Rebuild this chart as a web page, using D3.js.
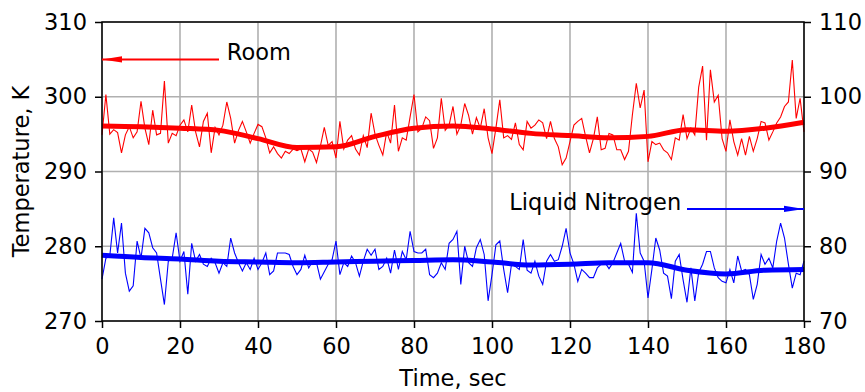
<!DOCTYPE html>
<html>
<head>
<meta charset="utf-8">
<script src="https://cdn.jsdelivr.net/npm/d3@7"></script>
<style>
  body { margin: 0; background: #fff; }
  svg { display: block; font-family: "DejaVu Sans", sans-serif; }
</style>
</head>
<body>
<svg id="chart" width="865" height="392"></svg>
<script>
// raw samples, one per second (0..180 s)
const roomTemp = [
  294.9, 300.3, 295.0, 295.6, 295.2, 292.5, 294.9, 296.0, 294.5, 295.3,
  299.4, 295.8, 293.6, 298.2, 294.9, 295.1, 302.1, 293.8, 295.1, 294.8,
  296.2, 296.9, 295.3, 298.9, 295.3, 293.3, 296.7, 297.8, 292.5, 295.9,
  294.9, 296.2, 299.3, 297.1, 293.8, 295.5, 296.7, 295.3, 293.8, 295.1,
  296.3, 296.0, 294.5, 292.5, 293.3, 292.4, 291.8, 292.7, 292.4, 293.0,
  292.8, 293.0, 291.3, 293.0, 292.6, 291.2, 293.4, 295.9, 293.5, 294.0,
  291.8, 296.7, 293.0, 294.2, 294.8, 293.0, 292.2, 294.8, 293.2, 297.8,
  295.0, 293.5, 292.2, 295.3, 293.8, 298.9, 292.7, 294.5, 294.2, 297.3,
  300.3, 295.3, 295.8, 297.3, 296.8, 293.1, 294.5, 299.8, 295.5, 296.2,
  298.7, 295.0, 296.2, 299.1, 297.5, 295.0, 297.2, 295.8, 298.4, 294.5,
  292.4, 295.8, 299.6, 294.5, 294.8, 294.3, 296.5, 293.6, 292.9, 296.7,
  295.8, 296.2, 296.9, 296.5, 294.4, 296.7, 294.4, 293.3, 290.9, 291.8,
  294.0, 296.2, 296.7, 297.1, 294.7, 292.5, 294.4, 297.3, 292.9, 293.1,
  295.1, 294.9, 292.9, 292.9, 291.6, 292.7, 297.6, 301.8, 298.5, 300.9,
  291.3, 294.0, 293.6, 293.8, 292.9, 292.5, 291.6, 294.5, 294.2, 297.6,
  294.4, 295.8, 294.9, 301.3, 304.1, 294.2, 303.6, 299.3, 300.2, 294.4,
  292.7, 296.9, 294.0, 292.2, 294.4, 292.2, 294.7, 292.7, 294.4, 296.7,
  296.5, 294.2, 295.3, 296.5, 297.3, 298.7, 299.3, 304.9, 297.1, 299.8,
  295.3
];

const nitrogenTemp = [
  75.6, 78.4, 78.7, 83.8, 79.1, 83.1, 76.4, 74.0, 74.7, 80.7,
  78.4, 82.4, 81.8, 79.8, 79.1, 75.6, 72.2, 78.0, 78.4, 81.8,
  78.0, 79.3, 73.6, 80.4, 78.0, 78.9, 77.6, 77.3, 78.4, 77.8,
  76.4, 77.8, 77.3, 81.1, 79.1, 77.8, 76.7, 77.8, 76.9, 78.4,
  76.9, 77.8, 79.1, 76.2, 76.7, 79.1, 79.1, 79.1, 78.9, 77.3,
  76.2, 76.9, 78.8, 77.1, 78.0, 77.8, 75.6, 76.6, 77.6, 78.2,
  80.7, 76.2, 77.8, 77.3, 78.7, 77.8, 76.0, 78.0, 79.6, 78.8,
  79.6, 76.9, 77.3, 78.4, 76.4, 79.5, 76.9, 79.3, 78.2, 82.0,
  79.3, 79.1, 79.1, 79.6, 76.2, 75.8, 76.4, 77.8, 76.9, 80.4,
  80.9, 82.0, 74.9, 80.0, 77.8, 77.3, 79.8, 80.9, 78.9, 72.7,
  76.2, 80.2, 80.7, 76.9, 73.8, 77.6, 77.3, 76.9, 80.9, 76.8,
  76.4, 78.0, 76.0, 74.9, 78.0, 78.9, 78.0, 78.2, 80.0, 82.4,
  79.1, 77.6, 75.3, 76.9, 76.4, 75.8, 75.8, 77.1, 77.6, 77.8,
  77.0, 77.8, 79.1, 80.4, 78.0, 77.6, 76.5, 84.4, 79.1, 78.0,
  73.1, 76.9, 81.1, 79.5, 76.4, 76.0, 73.0, 78.0, 78.9, 75.5,
  72.5, 77.1, 72.7, 76.5, 77.6, 79.3, 79.3, 77.1, 75.8, 75.3,
  75.1, 76.9, 75.1, 78.7, 76.7, 76.9, 76.2, 72.9, 74.9, 78.9,
  77.6, 78.4, 77.1, 80.7, 83.1, 81.1, 77.6, 74.4, 76.4, 76.2,
  78.0
];

// smoothed trend, read every 10 s
const trendTimes = [0, 10, 20, 30, 40, 50, 60, 70, 80, 90, 100, 110, 120, 130, 140, 150, 160, 170, 180];
const roomTrend = [296.1, 296.0, 295.8, 295.5, 294.4, 293.2, 293.3, 294.7, 295.8, 296.1,
  295.7, 295.1, 294.8, 294.5, 294.7, 295.6, 295.4, 295.8, 296.6];
const nitrogenTrend = [78.8, 78.5, 78.3, 78.0, 77.9, 77.8, 77.9, 78.0, 78.1, 78.2,
  77.9, 77.5, 77.6, 77.8, 77.8, 76.8, 76.3, 76.8, 76.9];

const xTicks = [0, 20, 40, 60, 80, 100, 120, 140, 160, 180];
const leftTicks = [270, 280, 290, 300, 310];
const rightTicks = [70, 80, 90, 100, 110];

const margin = { top: 22, right: 61, bottom: 71, left: 102 };
const width = 865 - margin.left - margin.right;
const height = 392 - margin.top - margin.bottom;
const fontSize = 22.5;

const svg = d3.select('#chart');
const g = svg.append('g').attr('transform', `translate(${margin.left},${margin.top})`);

const x = d3.scaleLinear().domain([0, 180]).range([0, width]);
const yLeft = d3.scaleLinear().domain([270, 310]).range([height, 0]);
const yRight = d3.scaleLinear().domain([70, 110]).range([height, 0]);

// grid lines
g.append('g')
  .selectAll('line')
  .data(xTicks)
  .join('line')
  .attr('x1', d => x(d)).attr('x2', d => x(d))
  .attr('y1', 0).attr('y2', height)
  .attr('stroke', '#b0b0b0').attr('stroke-width', 1.6);

g.append('g')
  .selectAll('line')
  .data(leftTicks)
  .join('line')
  .attr('x1', 0).attr('x2', width)
  .attr('y1', d => yLeft(d)).attr('y2', d => yLeft(d))
  .attr('stroke', '#b0b0b0').attr('stroke-width', 1.6);

// lines
const line = (yScale) => d3.line().x((d, i) => x(i)).y(d => yScale(d));
const trendLine = (yScale) => d3.line()
  .x((d, i) => x(trendTimes[i]))
  .y(d => yScale(d))
  .curve(d3.curveMonotoneX);

g.append('path').datum(roomTemp)
  .attr('d', line(yLeft)).attr('fill', 'none').attr('stroke', 'red').attr('stroke-width', 1.1);
g.append('path').datum(nitrogenTemp)
  .attr('d', line(yRight)).attr('fill', 'none').attr('stroke', 'blue').attr('stroke-width', 1.1);
g.append('path').datum(roomTrend)
  .attr('d', trendLine(yLeft)).attr('fill', 'none').attr('stroke', 'red').attr('stroke-width', 5);
g.append('path').datum(nitrogenTrend)
  .attr('d', trendLine(yRight)).attr('fill', 'none').attr('stroke', 'blue').attr('stroke-width', 5);

// axes
const styleAxis = (sel) => {
  sel.select('.domain').remove();
  sel.selectAll('.tick line').attr('stroke', '#000').attr('stroke-width', 1.5);
  sel.selectAll('.tick text').attr('font-size', fontSize).attr('fill', '#000')
    .attr('font-family', '"DejaVu Sans", sans-serif');
};

g.append('g')
  .attr('transform', `translate(0,${height})`)
  .call(d3.axisBottom(x).tickValues(xTicks).tickSize(7).tickPadding(10))
  .call(styleAxis);

g.append('g')
  .call(d3.axisLeft(yLeft).tickValues(leftTicks).tickSize(7).tickPadding(8))
  .call(styleAxis);

g.append('g')
  .attr('transform', `translate(${width},0)`)
  .call(d3.axisRight(yRight).tickValues(rightTicks).tickSize(7).tickPadding(8))
  .call(styleAxis);

// frame
g.append('rect')
  .attr('width', width).attr('height', height)
  .attr('fill', 'none').attr('stroke', '#000').attr('stroke-width', 1.5);

// axis titles
svg.append('text')
  .attr('x', margin.left + width / 2).attr('y', 386)
  .attr('text-anchor', 'middle').attr('font-size', fontSize)
  .text('Time, sec');

svg.append('text')
  .attr('transform', `translate(29,${margin.top + height / 2}) rotate(-90)`)
  .attr('text-anchor', 'middle').attr('font-size', fontSize)
  .text('Temperature, K');

// annotations with arrows
const arrowHead = (color, id) => {
  svg.append('defs').append('marker')
    .attr('id', id)
    .attr('markerUnits', 'userSpaceOnUse')
    .attr('viewBox', '0 0 20 8')
    .attr('refX', 20).attr('refY', 4)
    .attr('markerWidth', 20).attr('markerHeight', 8)
    .attr('orient', 'auto')
    .append('path').attr('d', 'M0,0.8 L20,4 L0,7.2 Z').attr('fill', color);
};
arrowHead('red', 'head-red');
arrowHead('blue', 'head-blue');

g.append('line')
  .attr('x1', x(30)).attr('x2', x(0))
  .attr('y1', yLeft(305)).attr('y2', yLeft(305))
  .attr('stroke', 'red').attr('stroke-width', 2)
  .attr('marker-end', 'url(#head-red)');
g.append('text')
  .attr('x', x(32)).attr('y', yLeft(305) + 1)
  .attr('font-size', fontSize)
  .text('Room');

g.append('line')
  .attr('x1', x(150)).attr('x2', x(180))
  .attr('y1', yRight(85)).attr('y2', yRight(85))
  .attr('stroke', 'blue').attr('stroke-width', 2)
  .attr('marker-end', 'url(#head-blue)');
g.append('text')
  .attr('x', x(148.5)).attr('y', yRight(85) + 1)
  .attr('text-anchor', 'end')
  .attr('font-size', fontSize)
  .text('Liquid Nitrogen');
</script>
</body>
</html>
